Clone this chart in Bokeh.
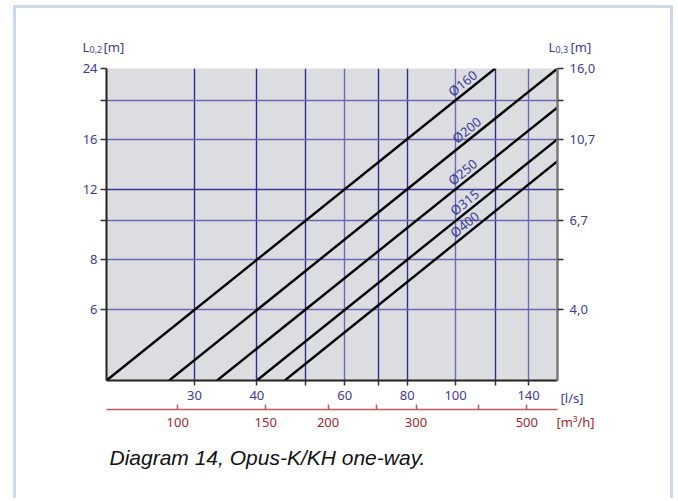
from bokeh.plotting import figure
from bokeh.models import (Range1d, LogAxis, LogScale, FixedTicker, Grid, Label,
                          CustomJSTickFormatter, ColumnDataSource)
from bokeh.embed import file_html
from bokeh.resources import INLINE
from bokeh.core.properties import value
import math

# Axis ranges: air flow in l/s (log) and throw length L0,2 in m (log)
Q_MIN, Q_MAX = 20, 160
L_MIN, L_MAX = 4, 24
M3H_PER_LS = 3.6          # 1 l/s = 3.6 m3/h
L03_PER_L02 = 2 / 3       # L0,3 = 2/3 * L0,2

# Duct sizes and their throw lines (start / end points)
diameters = ["Ø160", "Ø200", "Ø250", "Ø315", "Ø400"]
q_start = [20.0, 26.7, 33.3, 40.0, 45.5]
l_start = [4.0, 4.0, 4.0, 4.0, 4.0]
q_end = [120.0, 160.0, 160.0, 160.0, 160.0]
l_end = [24.0, 24.0, 19.2, 16.0, 14.1]
label_q = [106, 108, 106, 107, 107]

# Ticks
ls_ticks = [30, 40, 60, 80, 100, 140]
ls_minor = [50, 70, 120]
m3h_ticks = [100, 150, 200, 300, 500]
m3h_minor = [250, 400]
l02_ticks = [6, 8, 12, 16, 24]
l02_minor = [10, 20]
l03_ticks = [6, 10, 16, 24]      # positions on the L0,2 scale
l03_minor = [8, 12, 20]

# Grid lines
vgrid_dark = [30, 40, 50, 70, 80, 120]
vgrid_light = [60, 100, 140]
hgrid_dark = [12]
hgrid_light = [6, 8, 10, 16, 20]
top_edge = [24]

BLUE = "#3c3c9c"
RED_TXT = "#a3262a"
RED_LINE = "#c45a5a"
FONT = "Noto Sans"

p = figure(width=660, height=493,
           x_axis_type="log", y_axis_type="log",
           x_range=Range1d(Q_MIN, Q_MAX), y_range=Range1d(L_MIN, L_MAX),
           x_axis_location=None, y_axis_location=None,
           min_border_left=90, min_border_right=119,
           min_border_top=60, min_border_bottom=121,
           output_backend="svg", toolbar_location=None)
p.styles = {"margin-left": "13px", "margin-top": "5px",
            "border-left": "3px solid #cdd7ee", "border-right": "3px solid #cdd7ee",
            "border-top": "3px solid #cdd7ee"}
p.background_fill_color = "#dcdde0"
p.border_fill_color = "white"
p.outline_line_color = None
p.grid.visible = False

# grid
for ticks, dim, color, w in [(vgrid_dark, 0, "#2e2e8c", 1.4), (vgrid_light, 0, "#6a6ab4", 1.4),
                             (hgrid_dark, 1, "#3a3a96", 1.4), (hgrid_light, 1, "#6a6ab4", 1.4),
                             (top_edge, 1, "#1e1e6e", 4)]:
    g = Grid(dimension=dim, ticker=FixedTicker(ticks=ticks),
             grid_line_color=color, grid_line_width=w)
    p.add_layout(g, "center")


def style_axis(ax, color_lbl, tick_color, out, inn, standoff):
    ax.major_label_text_font = FONT
    ax.major_label_text_font_size = "13px"
    ax.major_label_text_color = color_lbl
    ax.major_tick_line_color = tick_color
    ax.minor_tick_line_color = tick_color
    ax.major_tick_line_width = 1.5
    ax.minor_tick_line_width = 1.5
    ax.major_tick_out = out
    ax.minor_tick_out = out
    ax.major_tick_in = inn
    ax.minor_tick_in = inn
    ax.major_label_standoff = standoff


# left axis: L0,2
left = LogAxis(ticker=FixedTicker(ticks=l02_ticks, minor_ticks=l02_minor),
               axis_line_color="#222", axis_line_width=2)
style_axis(left, BLUE, "#333", 6, 0, 3)
p.add_layout(left, "left")

# right axis: L0,3
right = LogAxis(ticker=FixedTicker(ticks=l03_ticks, minor_ticks=l03_minor),
                formatter=CustomJSTickFormatter(
                    args=dict(f=L03_PER_L02),
                    code="return (tick * f).toFixed(1).replace('.', ',')"),
                axis_line_color="#7a7a7a", axis_line_width=2.5)
style_axis(right, BLUE, "#333", 6, 0, 6)
p.add_layout(right, "right")

# bottom axis: l/s (a blank axis label adds a little space below it)
bottom = LogAxis(ticker=FixedTicker(ticks=ls_ticks, minor_ticks=ls_minor),
                 axis_line_color="#222", axis_line_width=2,
                 axis_label=" ", axis_label_text_font_size="1px",
                 axis_label_standoff=3)
style_axis(bottom, BLUE, "#333", 5, 0, 5)
p.add_layout(bottom, "below")

# second bottom axis: m3/h
p.extra_x_ranges = {"m3h": Range1d(Q_MIN * M3H_PER_LS, Q_MAX * M3H_PER_LS)}
p.extra_x_scales = {"m3h": LogScale()}
m3h = LogAxis(x_range_name="m3h",
              ticker=FixedTicker(ticks=m3h_ticks, minor_ticks=m3h_minor),
              axis_line_color=RED_LINE, axis_line_width=1.5)
style_axis(m3h, RED_TXT, RED_LINE, 0, 5, 8)
p.add_layout(m3h, "below")

# throw lines
for qs, ls, qe, le in zip(q_start, l_start, q_end, l_end):
    p.line([qs, qe], [ls, le], line_color="black", line_width=2.4)

# line labels, sitting on each line
lab_l = []
for qs, ls, qe, le, ql in zip(q_start, l_start, q_end, l_end, label_q):
    t = math.log(ql / qs) / math.log(qe / qs)
    lab_l.append(math.exp(math.log(ls) + t * math.log(le / ls)))
src = ColumnDataSource(dict(x=label_q, y=lab_l, t=diameters))
p.text(x="x", y="y", text="t", source=src, angle=0.68,
       text_align="center", text_baseline="bottom",
       text_font=value(FONT), text_font_size="13px", text_color=BLUE)


def lab(text, x, y, dx, dy, side, size="13px", color=BLUE, font=FONT,
        style="normal", baseline="alphabetic"):
    # placed in a side panel so that it is drawn outside the plot frame
    p.add_layout(Label(x=x, y=y, x_offset=dx, y_offset=dy, text=text,
                       text_font=font, text_font_size=size, text_color=color,
                       text_font_style=style, text_baseline=baseline,
                       text_align="left"), side)


# axis titles
lab("L", Q_MIN, L_MAX, -24, 22, "left")
lab("0,2", Q_MIN, L_MAX, -17, 19, "left", size="9px")
lab("[m]", Q_MIN, L_MAX, -3, 22, "left")
lab("L", Q_MAX, L_MAX, -9, 22, "right")
lab("0,3", Q_MAX, L_MAX, -2, 19, "right", size="9px")
lab("[m]", Q_MAX, L_MAX, 13, 22, "right")
lab("[l/s]", Q_MAX, L_MIN, 3, -17, "below", baseline="middle")
lab("[m³/h]", Q_MAX, L_MIN, -1, -41, "below", color=RED_TXT, baseline="middle")

# caption
lab("Diagram 14, Opus-K/KH one-way.", Q_MIN, L_MIN, 3, -77, "below", size="21px",
    color="#111111", font="Liberation Sans", style="italic")

open("out.html", "w").write(file_html(p, INLINE))
